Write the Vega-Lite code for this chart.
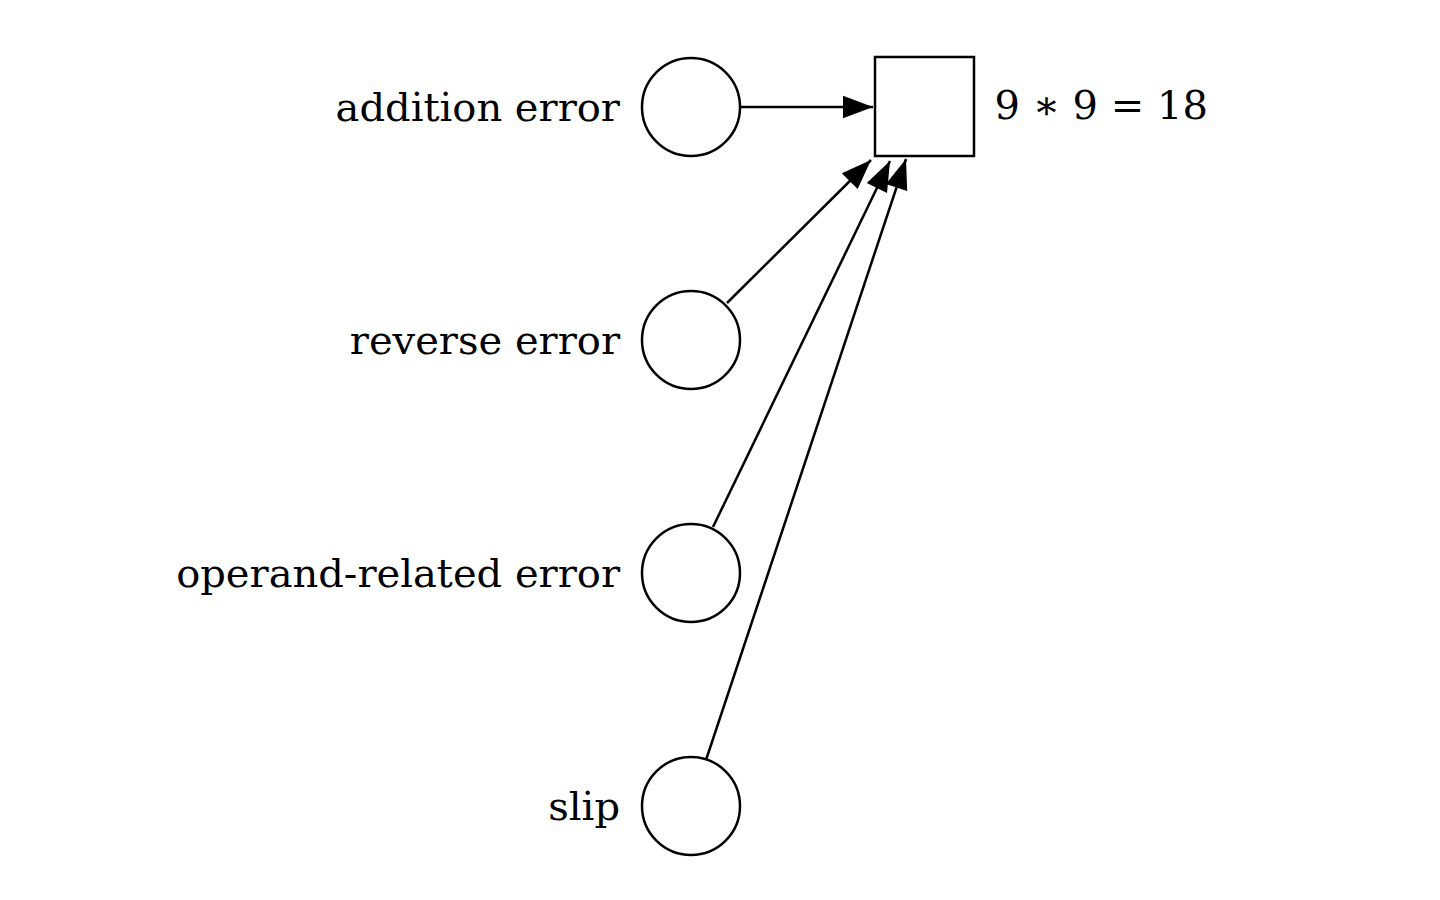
{
  "$schema": "https://vega.github.io/schema/vega-lite/v6.json",
  "width": 1440,
  "height": 900,
  "autosize": {"type": "fit", "contains": "padding"},
  "padding": 0,
  "background": "white",
  "config": {"view": {"stroke": null}},
  "datasets": {
    "nodes": [
      {"label": "addition error", "x": 691, "y": 107},
      {"label": "reverse error", "x": 691, "y": 340},
      {"label": "operand-related error", "x": 691, "y": 573},
      {"label": "slip", "x": 691, "y": 806}
    ],
    "edges": [
      {"x": 741, "y": 107, "tx": 873, "ty": 107, "angle": 0},
      {"x": 727, "y": 303, "tx": 871, "ty": 160, "angle": 315.2},
      {"x": 713, "y": 527, "tx": 890, "ty": 161, "angle": 295.9},
      {"x": 706, "y": 760, "tx": 906, "ty": 159, "angle": 288.4}
    ],
    "target": [{"x": 924.5, "y": 106.5, "label": "9 ∗ 9 = 18"}]
  },
  "encoding": {
    "x": {"field": "x", "type": "quantitative", "scale": {"domain": [0, 1440]}, "axis": null},
    "y": {"field": "y", "type": "quantitative", "scale": {"domain": [0, 900], "reverse": true}, "axis": null}
  },
  "layer": [
    {
      "data": {"name": "edges"},
      "mark": {"type": "rule", "stroke": "black", "strokeWidth": 2.5},
      "encoding": {"x2": {"field": "tx"}, "y2": {"field": "ty"}}
    },
    {
      "data": {"name": "edges"},
      "mark": {"type": "point", "shape": "M0,0L-2,-0.75L-2,0.75Z", "filled": true, "color": "black", "opacity": 1, "size": 900},
      "encoding": {
        "x": {"field": "tx", "type": "quantitative"},
        "y": {"field": "ty", "type": "quantitative"},
        "angle": {"field": "angle", "type": "quantitative", "scale": null}
      }
    },
    {
      "data": {"name": "nodes"},
      "mark": {"type": "point", "shape": "circle", "size": 9604, "fill": "white", "stroke": "black", "strokeWidth": 2.5, "opacity": 1, "filled": false}
    },
    {
      "data": {"name": "nodes"},
      "mark": {"type": "text", "align": "right", "baseline": "middle", "dx": -71, "dy": 2, "font": "DejaVu Serif", "fontSize": 40, "color": "black"},
      "encoding": {"text": {"field": "label"}}
    },
    {
      "data": {"name": "target"},
      "mark": {"type": "point", "shape": "square", "size": 9801, "fill": "white", "stroke": "black", "strokeWidth": 2.5, "opacity": 1, "filled": false}
    },
    {
      "data": {"name": "target"},
      "mark": {"type": "text", "align": "left", "baseline": "middle", "dx": 70, "dy": 0, "font": "DejaVu Serif", "fontSize": 40, "color": "black"},
      "encoding": {"text": {"field": "label"}}
    }
  ]
}
